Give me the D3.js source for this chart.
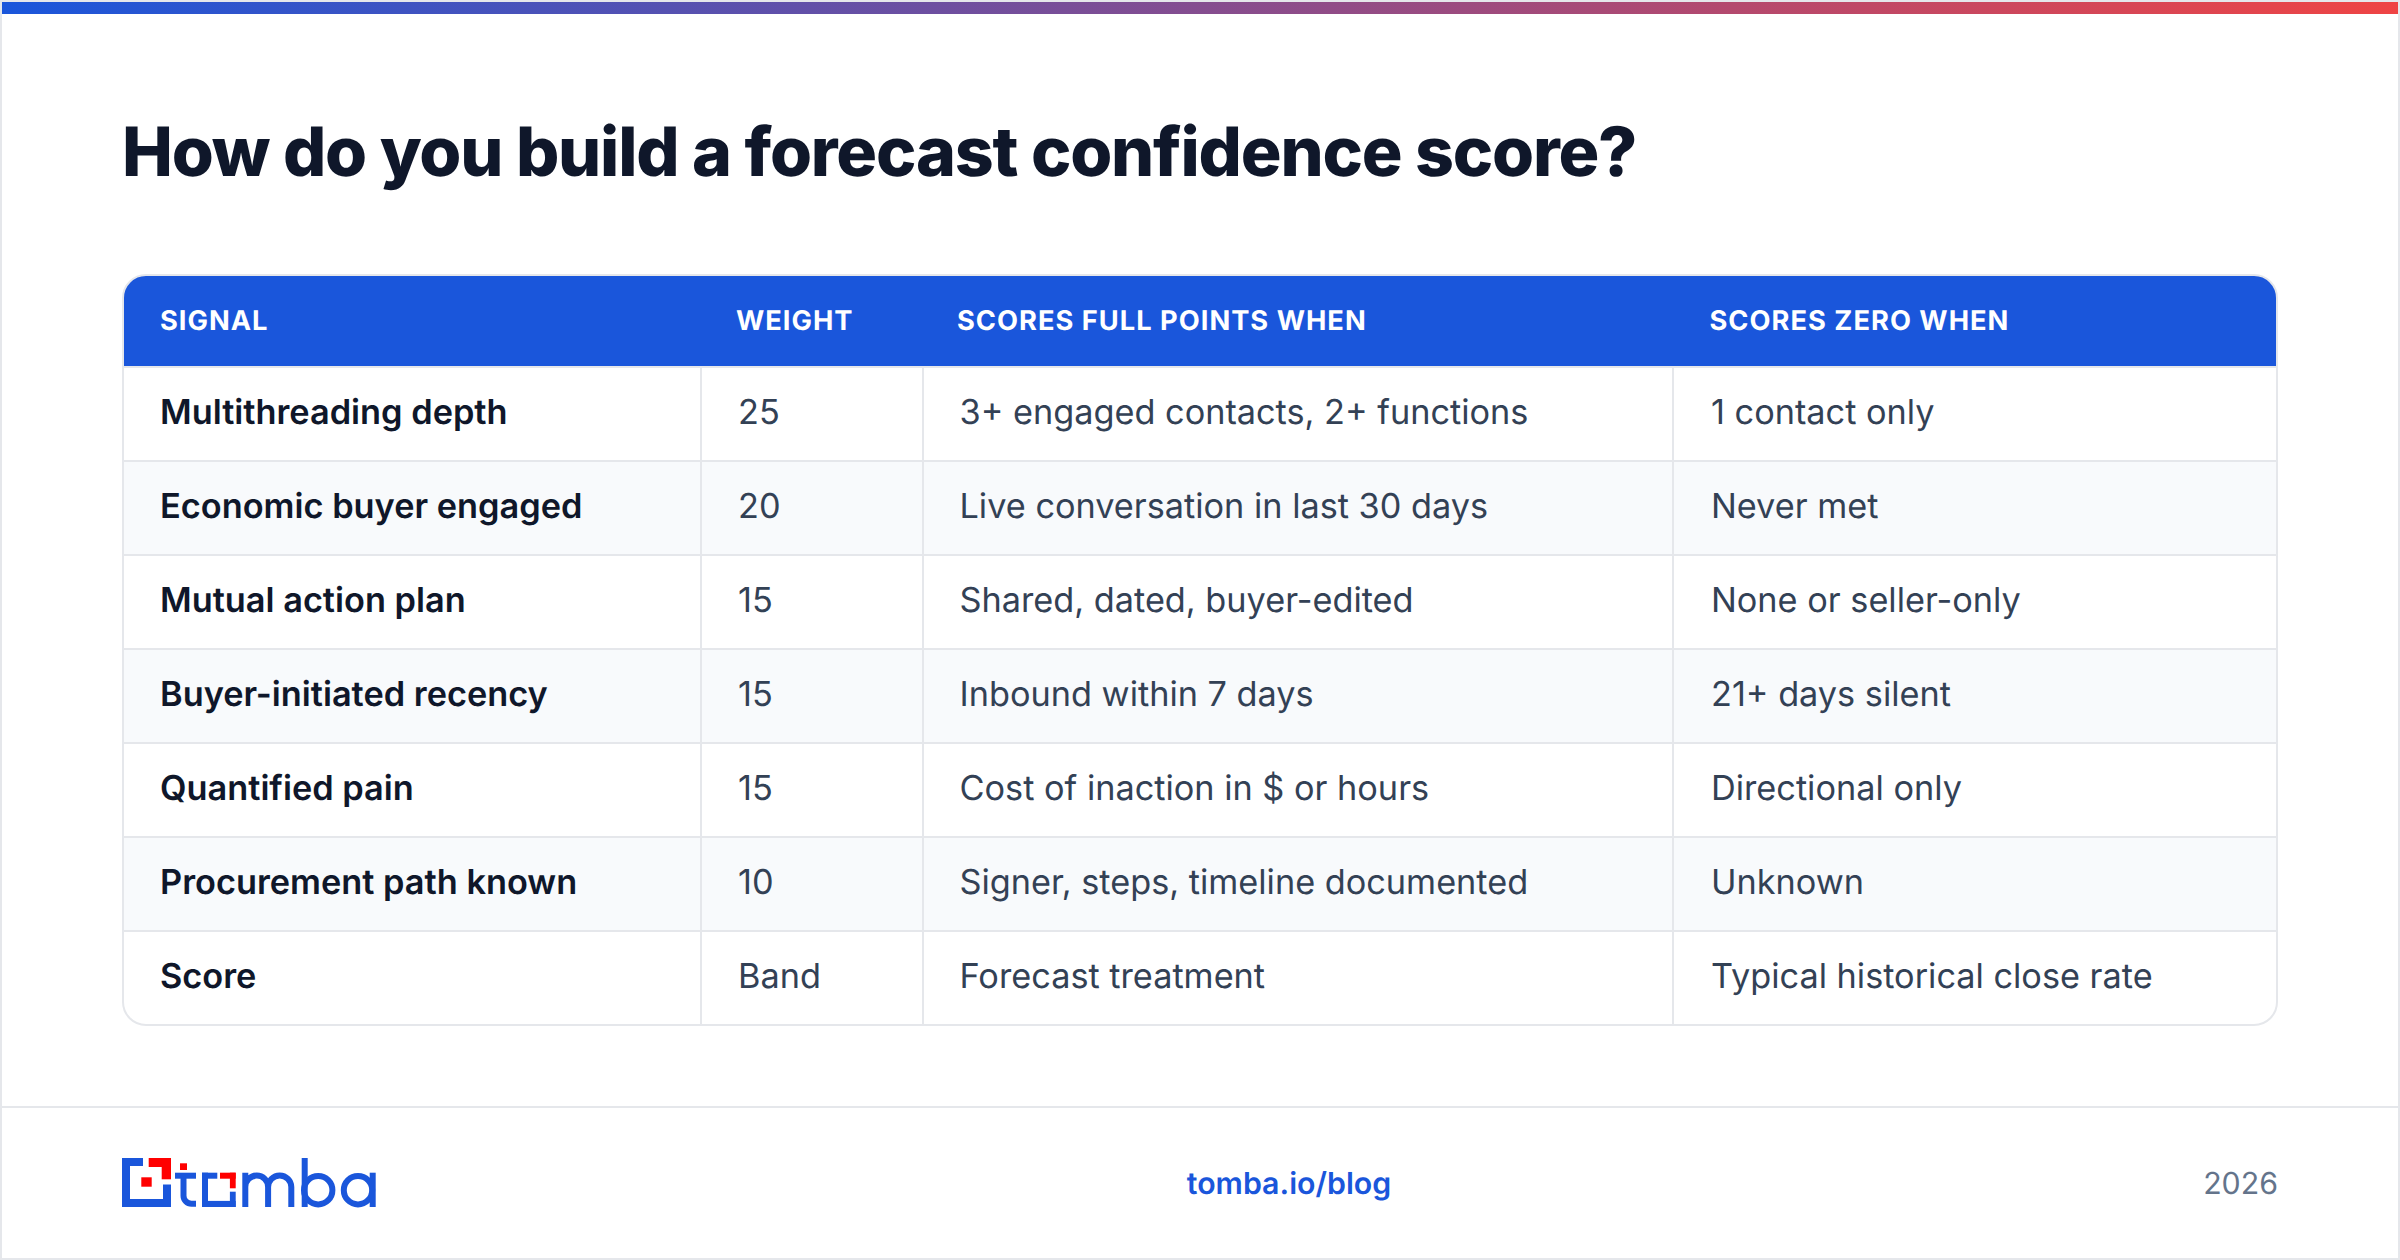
<!DOCTYPE html>
<html><head><meta charset="utf-8">
<script src="https://cdn.jsdelivr.net/npm/d3@7/dist/d3.min.js"></script>
<style>html,body{margin:0;padding:0;background:#fff}svg{display:block}text{font-family:Inter,sans-serif;text-rendering:geometricPrecision}</style>
</head><body><div id="chart"></div>
<script>
const chartTitle = "How do you build a forecast confidence score?";
const headers = ["SIGNAL","WEIGHT","SCORES FULL POINTS WHEN","SCORES ZERO WHEN"];
const signals = ["Multithreading depth","Economic buyer engaged","Mutual action plan","Buyer-initiated recency","Quantified pain","Procurement path known","Score"];
const weights = ["25","20","15","15","15","10","Band"];
const fullPoints = ["3+ engaged contacts, 2+ functions","Live conversation in last 30 days","Shared, dated, buyer-edited","Inbound within 7 days","Cost of inaction in $ or hours","Signer, steps, timeline documented","Forecast treatment"];
const zeroPoints = ["1 contact only","Never met","None or seller-only","21+ days silent","Directional only","Unknown","Typical historical close rate"];
const footerLink = "tomba.io/blog";
const footerYear = "2026";

const W=2400,H=1260;
const BLUE="#1a56db",RED="#ff0000",LINE="#e5e7eb",INK="#0f172a",BODY="#334155",MUTED="#64748b";
const svg=d3.select("#chart").append("svg").attr("width",W).attr("height",H).attr("viewBox",`0 0 ${W} ${H}`);
const defs=svg.append("defs");
const grad=defs.append("linearGradient").attr("id","bar");
grad.append("stop").attr("offset","0").attr("stop-color",BLUE);
grad.append("stop").attr("offset","1").attr("stop-color","#ef4444");

// page frame
svg.append("rect").attr("x",1).attr("y",1).attr("width",W-2).attr("height",H-2).attr("fill","#fff").attr("stroke",LINE).attr("stroke-width",2);
svg.append("rect").attr("x",2).attr("y",2).attr("width",W-4).attr("height",12).attr("fill","url(#bar)");

// title
svg.append("text").attr("x",122).attr("y",176).attr("fill",INK).attr("font-size",68).attr("font-weight",800).attr("letter-spacing",-1.2).text(chartTitle);

// table
const L=122,R=2278,T=274,B=1026,HB=366;
const x=d3.scaleOrdinal().domain([0,1,2,3]).range([124,702,924,1674]);
const y=d3.scaleBand().domain(d3.range(signals.length)).range([368,1026]).paddingInner(0).paddingOuter(0);
defs.append("clipPath").attr("id","card").append("rect").attr("x",L+1).attr("y",T+1).attr("width",R-L-2).attr("height",B-T-2).attr("rx",23);
const card=svg.append("g").attr("clip-path","url(#card)");
card.selectAll("rect.band").data(d3.range(signals.length)).join("rect").attr("class","band")
  .attr("x",L).attr("width",R-L).attr("y",d=>y(d)).attr("height",y.step()).attr("fill",d=>d%2?"#f8fafc":"#fff");
card.append("rect").attr("x",L).attr("y",T).attr("width",R-L).attr("height",HB-T).attr("fill",BLUE);
card.selectAll("rect.hl").data(d3.range(signals.length+1)).join("rect").attr("class","hl")
  .attr("x",L).attr("width",R-L).attr("height",2).attr("y",d=>d===0?366:y(d-1)+y.step()-2).attr("fill",LINE);
card.selectAll("rect.vl").data([1,2,3]).join("rect").attr("class","vl")
  .attr("x",d=>x(d)-2).attr("width",2).attr("y",368).attr("height",B-368).attr("fill",LINE);
svg.append("rect").attr("x",L+1).attr("y",T+1).attr("width",R-L-2).attr("height",B-T-2).attr("rx",23).attr("fill","none").attr("stroke",LINE).attr("stroke-width",2);
const headX=[160,736,957,1709.5];
svg.selectAll("text.h").data(headers).join("text").attr("class","h").attr("x",(d,i)=>headX[i]).attr("y",330)
  .attr("fill","#fff").attr("font-size",27.27).attr("font-weight",660).attr("letter-spacing",1.0).text(d=>d);
const bodyX=[160,738,959.5,1711];
const cols=[signals,weights,fullPoints,zeroPoints];
cols.forEach((col,c)=>{
  svg.selectAll("text.c"+c).data(col).join("text").attr("class","c"+c).attr("x",bodyX[c]).attr("y",(d,i)=>y(i)+y.step()/2+9)
   .attr("fill",c===0?INK:BODY).attr("font-size",c===0?34.34:34.28).attr("font-weight",c===0?640:420).text(d=>d);
});

// footer
svg.append("rect").attr("x",2).attr("y",1106).attr("width",W-4).attr("height",2).attr("fill",LINE);
svg.append("text").attr("x",1289).attr("y",1194).attr("text-anchor","middle").attr("fill",BLUE).attr("font-size",30.3).attr("font-weight",640).text(footerLink);
svg.append("text").attr("x",2278).attr("y",1194).attr("text-anchor","end").attr("fill",MUTED).attr("font-size",30.3).attr("font-weight",420).text(footerYear);

// logo
const logo=svg.append("g").attr("aria-label","tomba");
const blue=logo.append("g").attr("fill",BLUE);
const red=logo.append("g").attr("fill",RED);
const box=(g,x0,y0,x1,y1)=>g.append("rect").attr("x",x0).attr("y",y0).attr("width",x1-x0).attr("height",y1-y0);
box(blue,122,1158,130,1207);box(blue,122,1158,143,1166);box(blue,122,1199,171,1207);box(blue,163,1184.5,171,1207);
box(red,148.7,1158,171,1167);box(red,161.7,1158,171,1179.3);box(red,141.3,1177.3,151.7,1186.7);
box(red,180,1163.3,187,1170);
box(blue,175,1172.7,196,1178.7);
box(blue,202,1172.7,217.3,1178.7);box(blue,202,1172.7,208,1207);box(blue,202,1200.9,235.7,1207);box(blue,229.9,1191.7,235.7,1207);
box(red,220,1172.7,235.7,1178.7);box(red,229.9,1172.7,235.7,1188.3);
const st=logo.append("g").attr("fill","none").attr("stroke",BLUE).attr("stroke-width",6);
st.append("path").attr("d","M183.5 1175V1195.7A8 8 0 0 0 191.5 1203.7H196");
st.append("path").attr("d","M245.3 1207V1172.7M245.3 1187A11.4 11.4 0 0 1 268.1 1187V1207M268.1 1187A11.4 11.4 0 0 1 291.3 1187V1207");
st.append("path").attr("d","M304.7 1158V1207");
st.append("circle").attr("cx",318.2).attr("cy",1190.2).attr("r",14.2);
st.append("circle").attr("cx",358).attr("cy",1190.2).attr("r",14.2);
st.append("path").attr("d","M372.7 1172.7V1207");
</script></body></html>
